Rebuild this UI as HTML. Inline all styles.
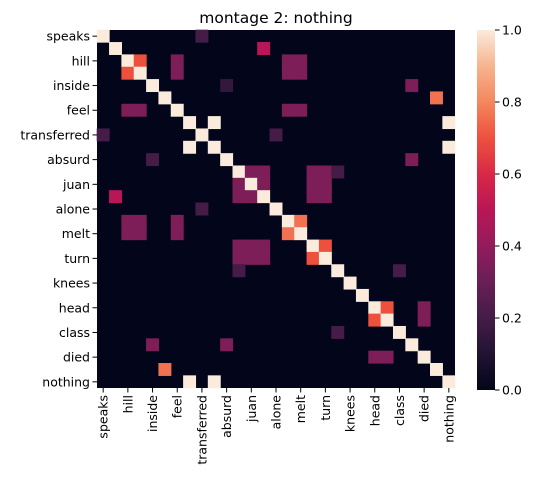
<!DOCTYPE html>
<html><head><meta charset="utf-8"><style>
html,body{margin:0;padding:0;background:#fff;}
svg{display:block;font-family:"DejaVu Sans","Liberation Sans",sans-serif;}
</style></head><body>
<svg id="chart" width="536" height="486" viewBox="0 0 536 486" xmlns="http://www.w3.org/2000/svg">
<defs>
<linearGradient id="rocket" x1="0" y1="1" x2="0" y2="0">
<stop offset="0" stop-color="#03051A"/><stop offset="0.1" stop-color="#221331"/>
<stop offset="0.2" stop-color="#451C47"/><stop offset="0.3" stop-color="#691F55"/>
<stop offset="0.4" stop-color="#921C5B"/><stop offset="0.5" stop-color="#B91657"/>
<stop offset="0.6" stop-color="#D92847"/><stop offset="0.7" stop-color="#ED513E"/>
<stop offset="0.8" stop-color="#F4875E"/><stop offset="0.9" stop-color="#F6B48E"/>
<stop offset="1" stop-color="#FAEBDD"/>
</linearGradient>
</defs>
<text x="276" y="23" text-anchor="middle" font-size="15.5">montage 2: nothing</text>
<g id="cells"></g>
<g id="yaxis"></g>
<g id="xaxis"></g>
<rect x="477" y="30" width="18" height="360" fill="url(#rocket)"/>
<g id="cbar"></g>
</svg>
<script>
const labels = ["speaks","","hill","","inside","","feel","","transferred","","absurd","","juan","","alone","","melt","","turn","","knees","","head","","class","","died","","nothing"];
// off-diagonal entries: [row, col, value]; diagonal is 1
const entries = [
[0,8,0.2],[8,0,0.2],[8,14,0.2],[14,8,0.2],
[1,13,0.5],[13,1,0.5],
[2,3,0.7],[3,2,0.7],
[2,6,0.35],[3,6,0.35],[6,2,0.35],[6,3,0.35],
[2,15,0.35],[2,16,0.35],[3,15,0.35],[3,16,0.35],[6,15,0.35],[6,16,0.35],
[15,2,0.35],[15,3,0.35],[15,6,0.35],[16,2,0.35],[16,3,0.35],[16,6,0.35],
[4,10,0.15],[10,4,0.2],[4,25,0.35],[25,4,0.35],[10,25,0.35],[25,10,0.35],
[5,27,0.76],[27,5,0.76],
[7,9,1],[9,7,1],[7,28,1],[9,28,1],[28,7,1],[28,9,1],
[11,12,0.35],[11,13,0.35],[12,11,0.35],[12,13,0.35],[13,11,0.35],[13,12,0.35],
[11,17,0.35],[11,18,0.35],[12,17,0.35],[12,18,0.35],[13,17,0.35],[13,18,0.35],
[17,11,0.35],[17,12,0.35],[17,13,0.35],[18,11,0.35],[18,12,0.35],[18,13,0.35],
[11,19,0.2],[19,11,0.2],
[15,16,0.76],[16,15,0.76],[17,18,0.7],[18,17,0.7],
[19,24,0.2],[24,19,0.2],
[22,23,0.7],[23,22,0.7],[22,26,0.35],[23,26,0.35],[26,22,0.35],[26,23,0.35]
];
const cbarTicks = [0,0.2,0.4,0.6,0.8,1.0];

const N = labels.length, X0 = 97, Y0 = 30, SIZE = 358, cell = SIZE / N;
const stops = [[0,[3,5,26]],[0.1,[34,19,49]],[0.2,[69,28,71]],[0.3,[105,31,85]],[0.4,[146,28,91]],[0.5,[185,22,87]],[0.6,[217,40,71]],[0.7,[237,81,62]],[0.8,[244,135,94]],[0.9,[246,180,142]],[1,[250,235,221]]];
function color(v){
  v=Math.max(0,Math.min(1,v));
  for(let i=1;i<stops.length;i++){ if(v<=stops[i][0]){
    const a=stops[i-1],b=stops[i],t=(v-a[0])/(b[0]-a[0]);
    return 'rgb('+a[1].map((c,k)=>Math.round(c+(b[1][k]-c)*t)).join(',')+')';}}
  return 'rgb(250,235,221)';
}
const xS = c => X0 + c*cell, yS = r => Y0 + r*cell;
const cbY = v => 390 - v*360;
const ns = 'http://www.w3.org/2000/svg';
function mk(tag, attrs, parent){ const e=document.createElementNS(ns,tag); for(const k in attrs) e.setAttribute(k,attrs[k]); parent.appendChild(e); return e; }

const M = [];
for(let r=0;r<N;r++){ M.push(new Array(N).fill(0)); M[r][r]=1; }
entries.forEach(([r,c,v])=>{ M[r][c]=v; });

const cg = document.getElementById('cells');
const bg = mk('rect',{x:X0,y:Y0,width:SIZE,height:SIZE,fill:color(0)},cg);


for(let r=0;r<N;r++) for(let c=0;c<N;c++){
  if(M[r][c]<=0) continue;
  const e = mk('rect',{x:xS(c)-0.3,y:yS(r)-0.3,width:cell+0.6,height:cell+0.6,fill:color(M[r][c])},cg);
  
  
}
const ya = document.getElementById('yaxis'), xa = document.getElementById('xaxis');
labels.forEach((l,i)=>{
  if(!l) return;
  const y = yS(i)+cell/2, x = xS(i)+cell/2;
  mk('line',{x1:X0-4.5,x2:X0,y1:y,y2:y,stroke:'#000','stroke-width':1},ya);
  const t = mk('text',{x:X0-7,y:y+4.5,'text-anchor':'end','font-size':12.5},ya);
  t.textContent = l;
  
  
  mk('line',{x1:x,x2:x,y1:Y0+SIZE,y2:Y0+SIZE+4.5,stroke:'#000','stroke-width':1},xa);
  const u = mk('text',{x:0,y:0,'text-anchor':'end','font-size':12.5,transform:'translate('+(x+4.5)+','+(Y0+SIZE+7)+') rotate(-90)'},xa);
  u.textContent = l;
  
  
});
const cb = document.getElementById('cbar');
cbarTicks.forEach(v=>{
  const y = cbY(v);
  mk('line',{x1:495,x2:499.5,y1:y,y2:y,stroke:'#000','stroke-width':1},cb);
  const t = mk('text',{x:502,y:y+4.5,'font-size':12.5},cb);
  t.textContent = v.toFixed(1);
  
  
});
</script>
</body></html>
